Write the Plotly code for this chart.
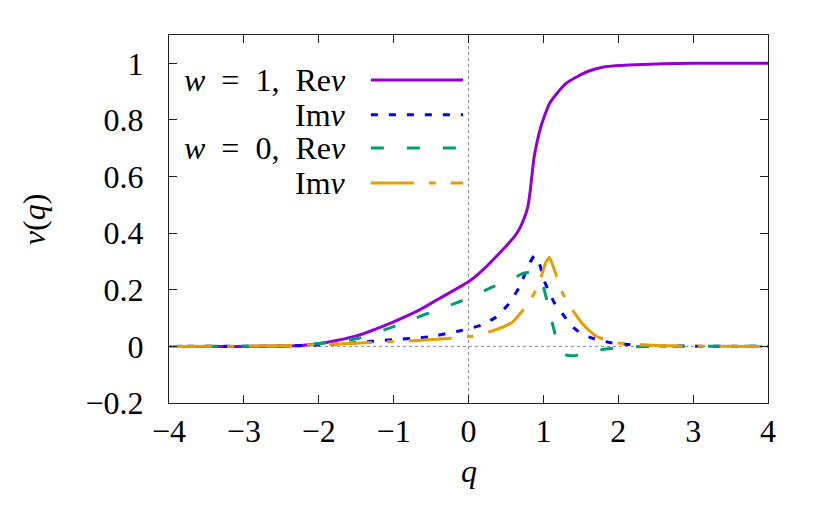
import plotly.graph_objects as go

# w = 1, Re nu (purple, solid)
q_re1 = [-4, -3, -2.5, -2.2, -1.9, -1.5, -1.0, -0.66, -0.39, 0.0, 0.2, 0.41, 0.54, 0.62,
         0.68, 0.74, 0.79, 0.82, 0.85, 0.876, 0.92, 0.965, 1.01, 1.08, 1.17, 1.3, 1.43,
         1.6, 1.79, 2.0, 2.23, 2.6, 3, 4]
re1 = [0, 0, 0.001, 0.004, 0.014, 0.037, 0.087, 0.128, 0.169, 0.228, 0.272, 0.328, 0.365,
       0.39, 0.415, 0.45, 0.49, 0.54, 0.61, 0.668, 0.727, 0.774, 0.81, 0.857, 0.89, 0.928,
       0.95, 0.972, 0.986, 0.992, 0.995, 0.998, 1.0, 1.0]

# w = 1, Im nu (blue, dotted)
q_im1 = [-4, -2.5, -2.0, -1.5, -1.26, -1.01, -0.77, -0.52, -0.08, 0.17, 0.37, 0.54, 0.68,
         0.8, 0.88, 0.95, 1.01, 1.14, 1.27, 1.43, 1.63, 1.88, 2.12, 2.5, 4]
im1 = [0, 0.001, 0.005, 0.013, 0.019, 0.024, 0.028, 0.034, 0.057, 0.075, 0.104, 0.151,
       0.21, 0.285, 0.32, 0.29, 0.233, 0.157, 0.11, 0.06, 0.031, 0.014, 0.007, 0.002, 0]

# w = 0, Re nu (green, dashed)
q_re0 = [-4, -2.5, -2.2, -1.9, -1.46, -0.99, -0.61, -0.1, 0.34, 0.6, 0.72, 0.85, 0.93,
         0.99, 1.05, 1.1, 1.15, 1.21, 1.3, 1.4, 1.55, 1.66, 1.79, 2.14, 2.5, 4]
re0 = [0, 0.001, 0.004, 0.013, 0.029, 0.071, 0.11, 0.16, 0.212, 0.24, 0.257, 0.263, 0.25,
       0.22, 0.16, 0.104, 0.05, -0.007, -0.03, -0.033, -0.027, -0.022, -0.011, -0.002, 0, 0]

# w = 0, Im nu (orange, dash-dot)
q_im0 = [-4, -2.5, -1.9, -1.46, -1.0, -0.48, 0.05, 0.32, 0.59, 0.81, 0.9, 0.97, 1.03,
         1.08, 1.16, 1.25, 1.39, 1.56, 1.72, 1.99, 2.28, 2.8, 4]
im0 = [0, 0.002, 0.007, 0.012, 0.017, 0.024, 0.036, 0.055, 0.086, 0.157, 0.198, 0.245,
       0.295, 0.315, 0.26, 0.192, 0.128, 0.069, 0.034, 0.012, 0.006, 0.001, 0]

x_ticks = [-4, -3, -2, -1, 0, 1, 2, 3, 4]
x_labels = ["−4", "−3", "−2", "−1", "0", "1", "2", "3", "4"]
y_ticks = [-0.2, 0, 0.2, 0.4, 0.6, 0.8, 1.0]
y_labels = ["−0.2", "0", "0.2", "0.4", "0.6", "0.8", "1"]

legend_text = ["<i>w</i>&nbsp;&nbsp;=&nbsp;&nbsp;1,&nbsp;&nbsp;Re<i>ν</i>", "Im<i>ν</i>",
               "<i>w</i>&nbsp;&nbsp;=&nbsp;&nbsp;0,&nbsp;&nbsp;Re<i>ν</i>", "Im<i>ν</i>"]
colors = ["#9400d3", "#0000ff", "#009e73", "#e69f00"]
dashes = ["solid", "7px,11px", "13px,23px", "43px,15px,7px,15px"]

FONT = "Liberation Serif"
FS = 32

fig = go.Figure()
series = [(q_re1, re1), (q_im1, im1), (q_re0, re0), (q_im0, im0)]
for (xs, ys), c, d in zip(series, colors, dashes):
    fig.add_trace(go.Scatter(x=xs, y=ys, mode="lines",
                             line=dict(color=c, width=3, dash=d, shape="spline", smoothing=0.5),
                             showlegend=False))

# zero axes, dotted
fig.add_shape(type="line", x0=0, x1=0, y0=-0.2, y1=1.1, xref="x", yref="y",
              line=dict(color="#888", width=1, dash="dot"), layer="below")
fig.add_shape(type="line", x0=-4, x1=4, y0=0, y1=0, xref="x", yref="y",
              line=dict(color="#888", width=1, dash="dot"), layer="below")

# gnuplot-like key: text right-aligned, sample line to its right
row_y = [0.878, 0.783, 0.693, 0.598]
for txt, c, d, yy in zip(legend_text, colors, dashes, row_y):
    fig.add_annotation(x=0.299, y=yy, xref="paper", yref="paper", text=txt,
                       showarrow=False, xanchor="right", yanchor="middle",
                       font=dict(family=FONT, size=FS, color="black"))
    fig.add_shape(type="line", x0=0.337, x1=0.491, y0=yy, y1=yy, xref="paper", yref="paper",
                  line=dict(color=c, width=3, dash=d))

# axis titles
fig.add_annotation(x=0.5, y=-0.13, xref="paper", yref="paper", text="<i>q</i>",
                   showarrow=False, xanchor="center", yanchor="top",
                   font=dict(family=FONT, size=FS, color="black"))
fig.add_annotation(x=-0.225, y=0.5, xref="paper", yref="paper", text="<i>ν</i>(<i>q</i>)",
                   showarrow=False, xanchor="center", yanchor="middle", textangle=-90,
                   font=dict(family=FONT, size=FS, color="black"))

axis_common = dict(showline=True, mirror="allticks", linecolor="#222", linewidth=1,
                   ticks="inside", ticklen=8, tickcolor="#222", showgrid=False,
                   zeroline=False, automargin=False,
                   tickfont=dict(family=FONT, size=FS, color="black"))

fig.update_xaxes(range=[-4, 4], tickvals=x_ticks, ticktext=x_labels,
                 ticklabelstandoff=0, **axis_common)
fig.update_yaxes(range=[-0.2, 1.1], tickvals=y_ticks, ticktext=y_labels,
                 ticklabelstandoff=18, **axis_common)

fig.update_layout(width=830, height=513, margin=dict(l=169, r=62, t=35, b=110),
                  paper_bgcolor="white", plot_bgcolor="white",
                  font=dict(family=FONT, color="black"))

fig.write_html("out.html", config={"displayModeBar": False},
               post_script="document.body.style.margin='0';")
